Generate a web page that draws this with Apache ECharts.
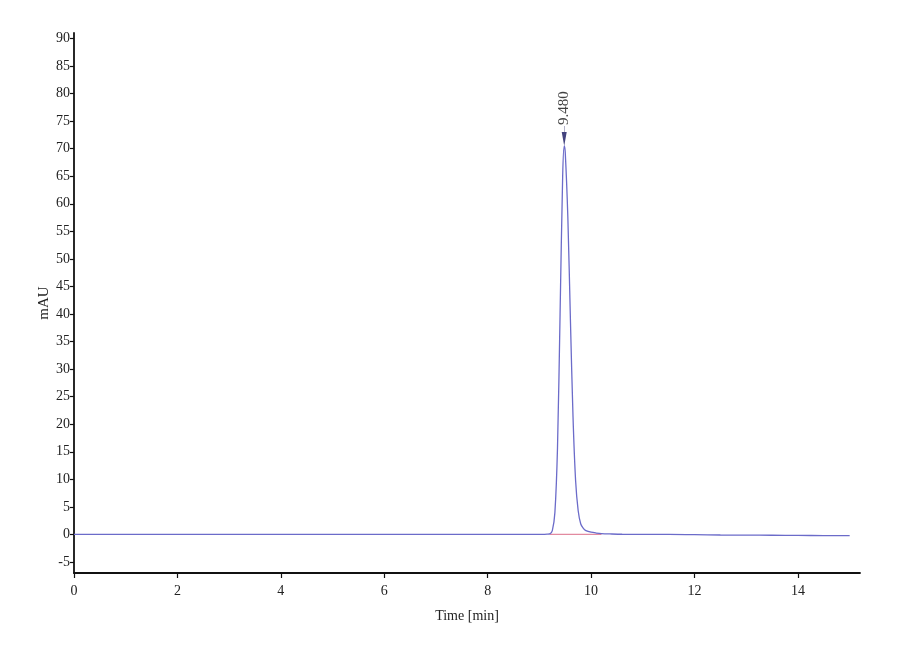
<!DOCTYPE html>
<html>
<head>
<meta charset="utf-8">
<script src="https://cdn.jsdelivr.net/npm/echarts@6/dist/echarts.min.js"></script>
<style>html,body{margin:0;padding:0;background:#fff}#c{width:900px;height:660px}</style>
</head>
<body>
<div id="c"></div>
<script>
// Chromatogram trace (time in min, signal in mAU)
const traceTime = [0, 1, 2, 3, 4, 5, 6, 7, 8, 8.5, 9, 9.1, 9.15, 9.2, 9.25, 9.3, 9.35, 9.4, 9.45, 9.48, 9.5, 9.55, 9.6, 9.65, 9.7, 9.75, 9.8, 9.85, 9.9, 10.0, 10.1, 10.2, 10.4, 10.6, 11.0, 11.5, 12.0, 12.5, 13.0, 13.5, 14.0, 14.5, 15.0];
const traceSignal = [0, 0, 0, 0, 0, 0.02, 0, 0, 0, 0, 0, 0.02, 0.05, 0.1, 0.7, 4.0, 15.7, 40, 65, 70.5, 69.3, 57.6, 38.9, 21.4, 9.8, 4.3, 1.9, 1.1, 0.7, 0.4, 0.25, 0.15, 0.08, 0.03, 0, 0, -0.05, -0.1, -0.12, -0.15, -0.18, -0.2, -0.2];
// Integration baseline under the peak
const baseTime = [9.2, 10.2];
const baseSignal = [0, 0];
// Peak annotation
const peakTime = 9.48;
const peakHeight = 70.5;
const peakLabel = '9.480';
// Tick labels
const xTicks = [0, 2, 4, 6, 8, 10, 12, 14];
const yTicks = [-5, 0, 5, 10, 15, 20, 25, 30, 35, 40, 45, 50, 55, 60, 65, 70, 75, 80, 85, 90];

const font = 'Liberation Serif';
const chart = echarts.init(document.getElementById('c'));
chart.setOption({
  backgroundColor: '#ffffff',
  animation: false,
  grid: { left: 74, right: 40, top: 33, bottom: 87, containLabel: false },
  xAxis: {
    type: 'value', min: 0, max: 15.2,
    name: 'Time [min]', nameLocation: 'middle', nameGap: 36,
    nameTextStyle: { fontFamily: font, fontSize: 14, color: '#222' },
    axisLine: { show: true, onZero: false, lineStyle: { color: '#111', width: 1.8 } },
    axisTick: { show: true, length: 5, customValues: xTicks, lineStyle: { color: '#111', width: 1.2 } },
    axisLabel: { customValues: xTicks, fontFamily: font, fontSize: 14, color: '#222', margin: 11 },
    splitLine: { show: false }
  },
  yAxis: {
    type: 'value', min: -7, max: 91,
    name: 'mAU', nameLocation: 'middle', nameGap: 22, nameRotate: 90, nameMoveOverlap: false,
    nameTextStyle: { fontFamily: font, fontSize: 15, color: '#222' },
    axisLine: { show: true, onZero: false, lineStyle: { color: '#111', width: 1.8 } },
    axisTick: { show: true, length: 4, customValues: yTicks, lineStyle: { color: '#111', width: 1.2 } },
    axisLabel: { customValues: yTicks, fontFamily: font, fontSize: 14, color: '#222', margin: 4 },
    splitLine: { show: false }
  },
  series: [
    {
      type: 'line', data: baseTime.map((t, i) => [t, baseSignal[i]]),
      symbol: 'none', lineStyle: { color: '#e28aa0', width: 1.2 }, z: 2
    },
    {
      type: 'line', data: traceTime.map((t, i) => [t, traceSignal[i]]),
      symbol: 'none', smooth: 0.3, lineStyle: { color: '#6b6bc9', width: 1.3 }, z: 3
    },
    {
      type: 'scatter', data: [[peakTime, peakHeight]],
      symbol: 'path://M0,0 L10,0 L5,14 Z M4.6,-6 L5.4,-6 L5.4,0 L4.6,0 Z',
      symbolSize: [10, 20], symbolKeepAspect: true, symbolOffset: [0, -10],
      itemStyle: { color: '#14145e' }, z: 5,
      label: {
        show: true, formatter: peakLabel, position: 'top', distance: 1,
        rotate: 90, align: 'left', verticalAlign: 'middle',
        fontFamily: font, fontSize: 15, color: '#111'
      }
    }
  ]
});
</script>
</body>
</html>
